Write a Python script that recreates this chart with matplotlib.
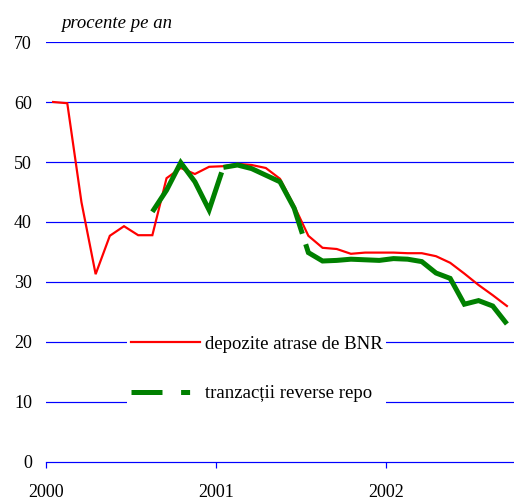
import matplotlib
matplotlib.use("Agg")
import matplotlib.pyplot as plt
from matplotlib.lines import Line2D
import numpy as np

plt.rcParams['font.family'] = ['Liberation Serif', 'DejaVu Serif']
plt.rcParams['lines.scale_dashes'] = False

# Monthly data, Jan 2000 .. Sep 2002 (33 months), percent per year
months = np.arange(33)
depozite = [60.0, 59.8, 43.3, 31.3, 37.7, 39.3, 37.8, 37.8, 47.3, 49.0, 48.0, 49.2,
            49.3, 49.7, 49.5, 49.0, 47.2, 42.7, 37.7, 35.7, 35.5, 34.7, 34.9, 34.9,
            34.9, 34.8, 34.8, 34.3, 33.2, 31.4, 29.5, 27.8, 26.0]
reverse_repo = [np.nan] * 7 + [41.7, 45.3, 49.9, 46.7, 42.0,
                49.1, 49.5, 48.9, 47.8, 46.7, 42.3, 34.9, 33.5, 33.6, 33.8, 33.7, 33.6,
                33.9, 33.8, 33.4, 31.5, 30.6, 26.3, 26.9, 26.0, 23.0]
year_ticks = [-0.5, 11.5, 23.5]
year_labels = ['2000', '2001', '2002']
y_ticks = [0, 10, 20, 30, 40, 50, 60, 70]
label_dep = 'depozite atrase de BNR'
label_rr = 'tranzacții reverse repo'
unit_label = 'procente pe an'

W, H = 514, 500
fig = plt.figure(figsize=(W / 100, H / 100), dpi=100)
ax = fig.add_axes([46 / W, 38 / H, 468 / W, 420 / H])

blue = '#0000FF'
px = 0.72  # points per pixel

ax.set_xlim(-0.5, 32.5)
ax.set_ylim(0, 70)
ax.set_yticks(y_ticks)
ax.set_xticks(year_ticks)
ax.set_xticklabels(year_labels)
for s in ['left', 'right', 'top']:
    ax.spines[s].set_visible(False)
ax.spines['bottom'].set_color(blue)
ax.spines['bottom'].set_linewidth(1.2 * px)
ax.tick_params(axis='y', length=0, pad=14 * px, labelsize=13)
ax.tick_params(axis='x', length=6 * px, width=1.2 * px, color=blue, pad=16 * px,
               labelsize=13)
for y in y_ticks[1:]:
    ax.axhline(y, color=blue, lw=1.2 * px, zorder=1)

ax.plot(months, depozite, color='#FF0000', lw=2.2 * px, zorder=3,
        solid_joinstyle='miter')
ax.plot(months, reverse_repo, color='#008000', lw=5 * px, zorder=4,
        dashes=(152 * px, 5.3 * px, 117 * px, 11 * px, 5000 * px),
        dash_capstyle='butt', dash_joinstyle='miter')

fig.text(61 / W, 1 - 24 / H, unit_label, style='italic', fontsize=13.5,
         va='center', ha='left')

h1 = Line2D([], [], color='#FF0000', lw=2.2 * px)
h2 = Line2D([], [], color='#008000', lw=5 * px,
            dashes=(31 * px, 18.6 * px, 9 * px, 100 * px), dash_capstyle='butt')
fs = 13.5
fpx = fs / 0.72
leg = ax.legend([h1, h2], [label_dep, label_rr], loc='upper left',
                bbox_to_anchor=(127 / W, 1 - 332 / H), bbox_transform=fig.transFigure,
                fontsize=fs, frameon=True, fancybox=False, framealpha=1,
                facecolor='white', edgecolor='none', borderpad=0.2,
                handlelength=69 / fpx, handletextpad=5 / fpx, labelspacing=1.71,
                borderaxespad=0)
leg.set_zorder(5)

fig.savefig('out.png', dpi=100)
